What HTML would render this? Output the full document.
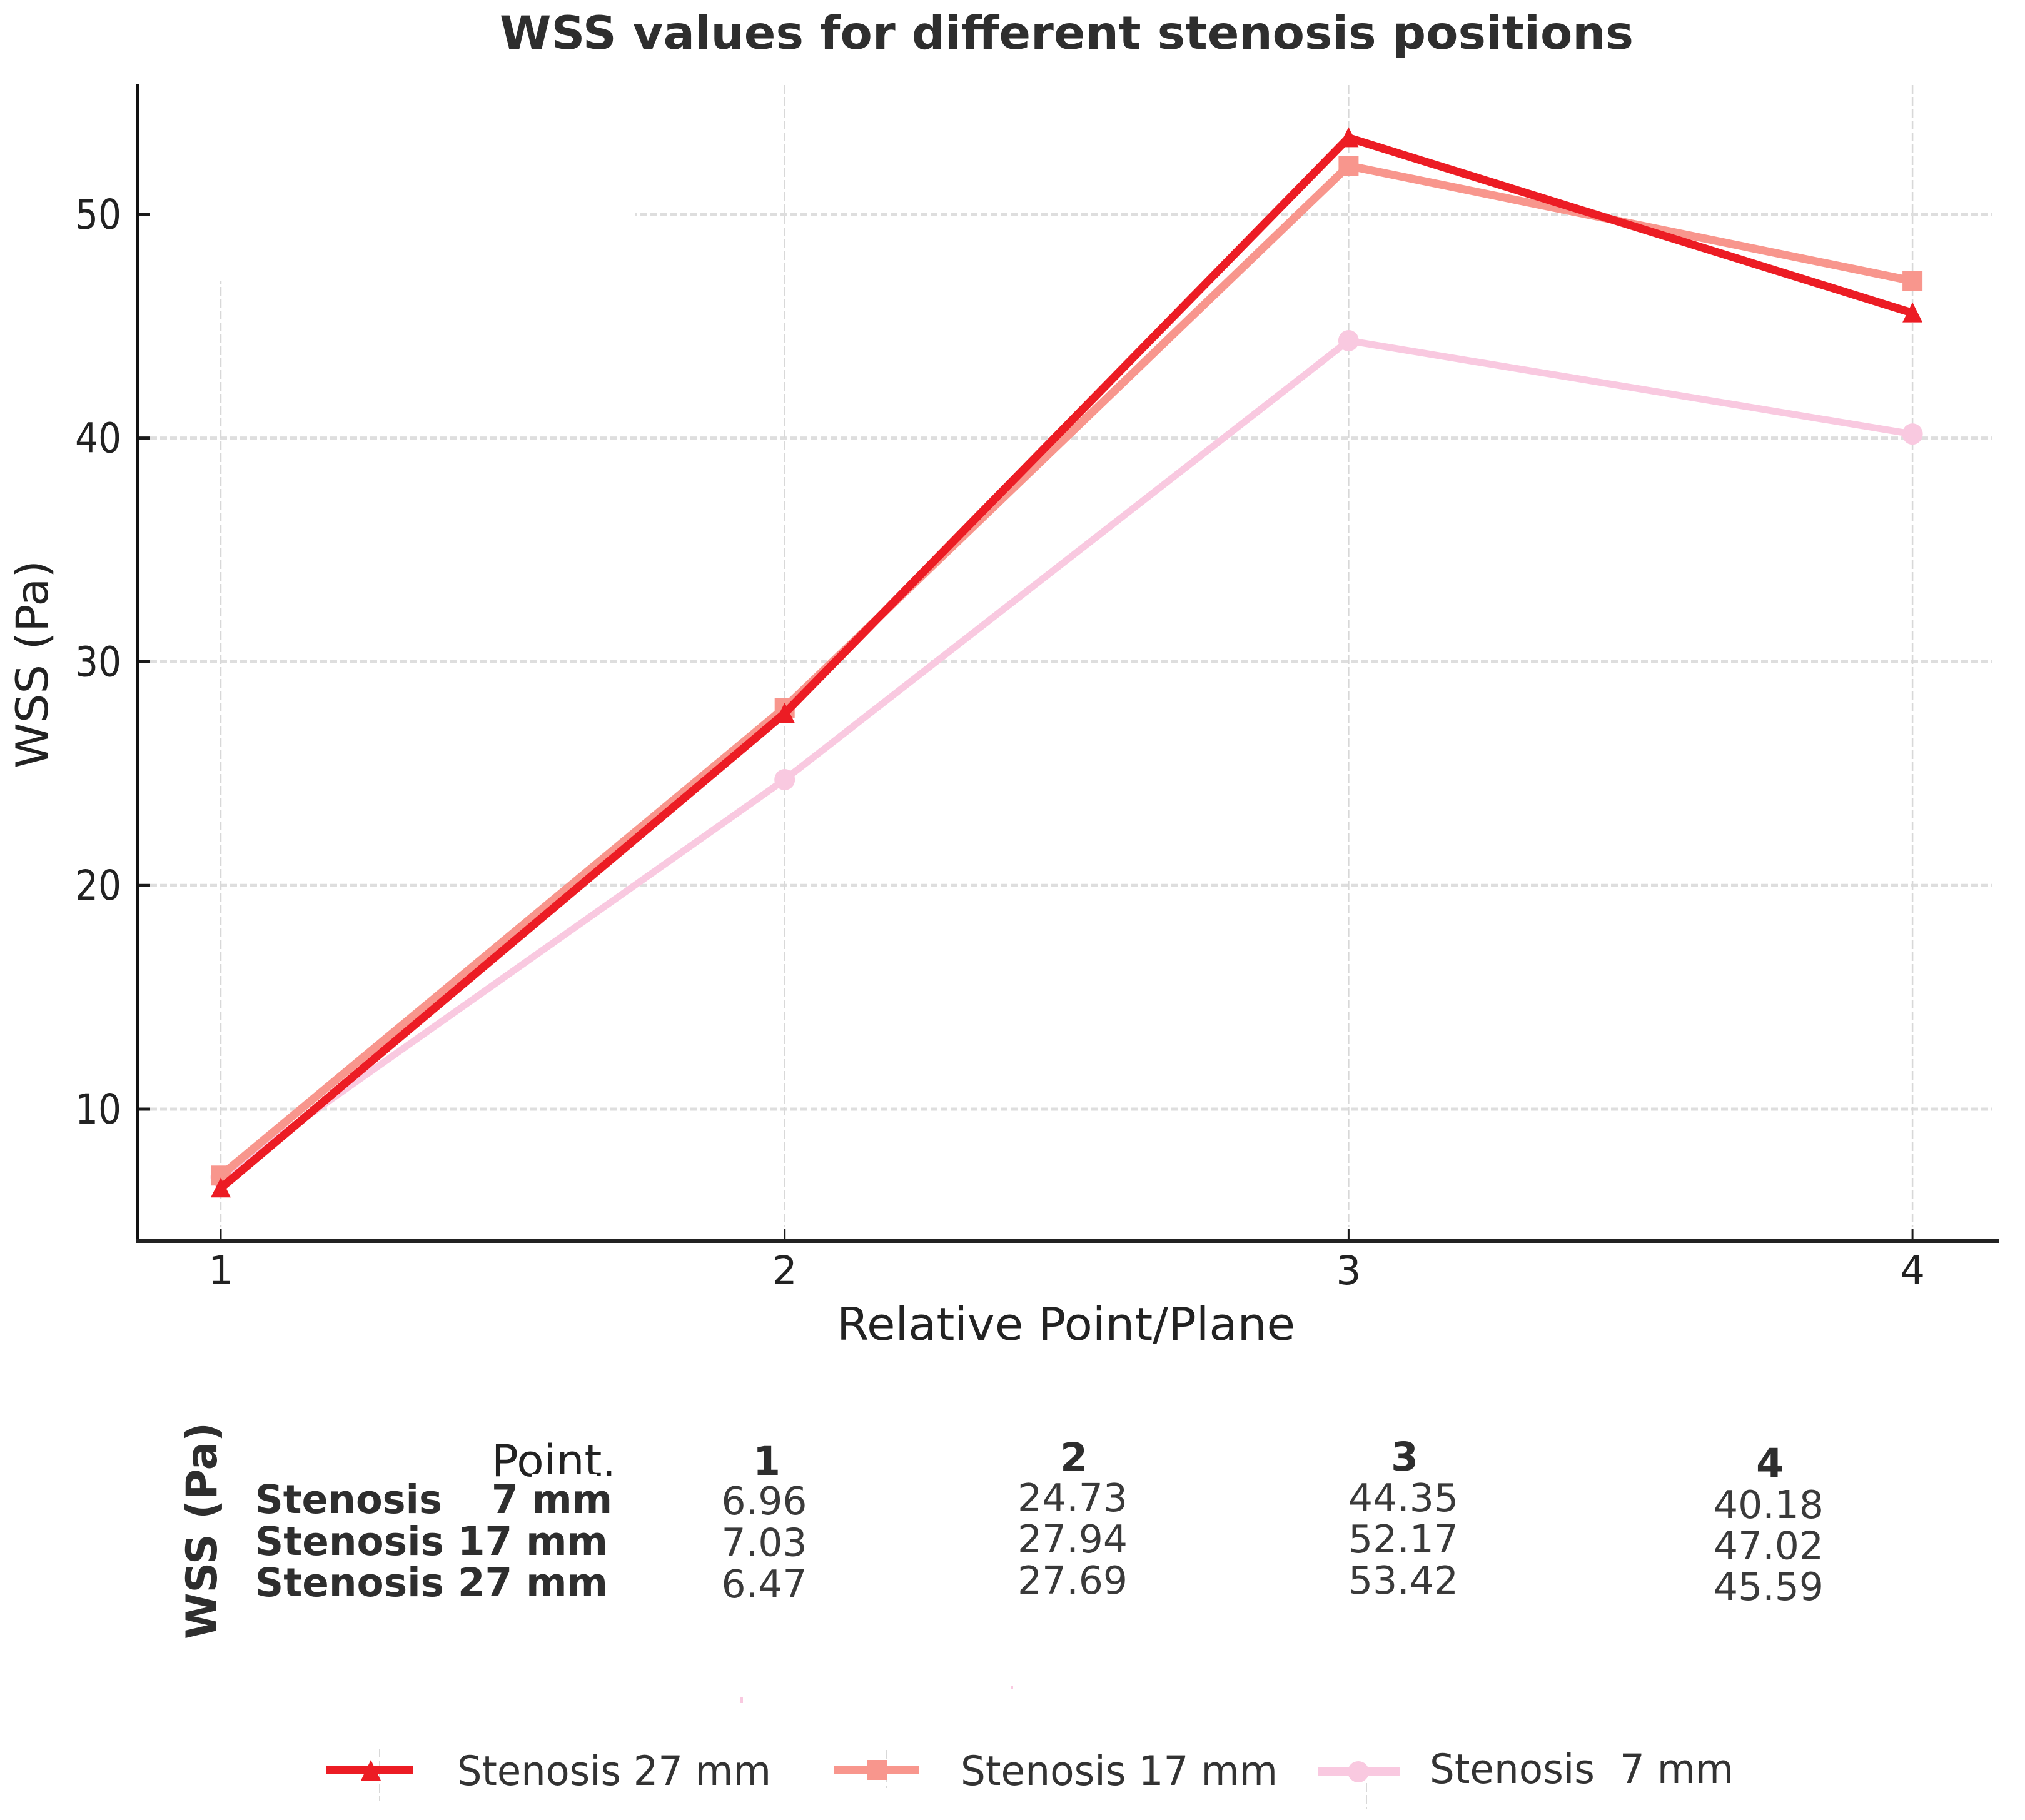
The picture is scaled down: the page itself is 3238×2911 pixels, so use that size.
<!DOCTYPE html>
<html lang="en">
<head>
<meta charset="utf-8">
<title>WSS values for different stenosis positions</title>
<style>
html,body{margin:0;padding:0;background:#fff;}
svg{display:block;font-family:"DejaVu Sans","Liberation Sans",sans-serif;}
</style>
</head>
<body>
<svg id="chart" xmlns="http://www.w3.org/2000/svg" width="3238" height="2911" viewBox="0 0 3238 2911">
  <rect x="0" y="0" width="3238" height="2911" fill="#ffffff"/>
  <text x="799" y="78" font-size="73" font-weight="700" fill="#2e2e2e" textLength="1813" lengthAdjust="spacingAndGlyphs">WSS values for different stenosis positions</text>
  <g id="grid"></g>
  <rect x="226" y="130" width="790" height="320" fill="#ffffff"/>
  <g id="series"></g>
  <g id="axes"></g>
  <text x="1338" y="2143" font-size="72" fill="#222222" textLength="733" lengthAdjust="spacingAndGlyphs">Relative Point/Plane</text>
  <text transform="translate(76,1229) rotate(-90)" font-size="70" fill="#222222" textLength="333" lengthAdjust="spacingAndGlyphs">WSS (Pa)</text>

  <g id="table">
    <text transform="translate(346,2622) rotate(-90)" font-size="68" font-weight="700" fill="#2e2e2e" textLength="347" lengthAdjust="spacingAndGlyphs">WSS (Pa)</text>
    <text x="786" y="2361" font-size="70" fill="#222222" textLength="199" lengthAdjust="spacingAndGlyphs">Point.</text>
    <rect x="850" y="2358" width="105" height="10" fill="#ffffff"/>
    <text x="408" y="2420" font-size="63" font-weight="700" fill="#2e2e2e" textLength="299" lengthAdjust="spacingAndGlyphs">Stenosis</text>
    <text x="786" y="2420" font-size="63" font-weight="700" fill="#2e2e2e" textLength="193" lengthAdjust="spacingAndGlyphs">7 mm</text>
    <text x="408" y="2487" font-size="63" font-weight="700" fill="#2e2e2e" textLength="564" lengthAdjust="spacingAndGlyphs">Stenosis 17 mm</text>
    <text x="408" y="2553" font-size="63" font-weight="700" fill="#2e2e2e" textLength="564" lengthAdjust="spacingAndGlyphs">Stenosis 27 mm</text>
  </g>

  <rect x="1184" y="2715" width="4" height="9" fill="#f9c9e0"/>
  <rect x="1617" y="2697" width="3" height="5" fill="#f9c9e0"/>

  <g id="legend">
    <g>
      <line x1="607" y1="2797" x2="607" y2="2881" stroke="#d8d8d8" stroke-width="2" stroke-dasharray="14 5"/>
      <rect x="522" y="2824" width="139" height="14" fill="#ec1c24"/>
      <polygon points="593,2815 609,2848 577,2848" fill="#ec1c24"/>
      <text x="731" y="2855" font-size="65" fill="#333333" textLength="502" lengthAdjust="spacingAndGlyphs">Stenosis 27 mm</text>
    </g>
    <g>
      <line x1="1417" y1="2799" x2="1417" y2="2860" stroke="#d8d8d8" stroke-width="2" stroke-dasharray="14 5"/>
      <rect x="1333" y="2824" width="137" height="14" fill="#f8968d"/>
      <rect x="1387" y="2815" width="32" height="32" fill="#f8968d"/>
      <text x="1536" y="2855" font-size="65" fill="#333333" textLength="507" lengthAdjust="spacingAndGlyphs">Stenosis 17 mm</text>
    </g>
    <g>
      <line x1="2185" y1="2852" x2="2185" y2="2894" stroke="#d8d8d8" stroke-width="2" stroke-dasharray="14 5"/>
      <rect x="2108" y="2826" width="131" height="14" fill="#f9c9e0"/>
      <ellipse cx="2172" cy="2834" rx="17" ry="17" fill="#f9c9e0"/>
      <text x="2286" y="2852" font-size="65" fill="#333333" textLength="486" lengthAdjust="spacingAndGlyphs" xml:space="preserve">Stenosis&#160;&#160;7 mm</text>
    </g>
  </g>
</svg>
<script>
var categories = [1, 2, 3, 4];
var yTickLabels = [10, 20, 30, 40, 50];
var stenosis7 = [6.96, 24.73, 44.35, 40.18];
var stenosis17 = [7.03, 27.94, 52.17, 47.02];
var stenosis27 = [6.47, 27.69, 53.42, 45.59];

var NS = 'http://www.w3.org/2000/svg';
function xAxis(c) { return 353 + (c - 1) * 901.7; }
function yAxis(v) { return 1774 - (v - 10) * 35.78; }
function make(parent, tag, attrs) {
  var el = document.createElementNS(NS, tag);
  for (var k in attrs) { el.setAttribute(k, attrs[k]); }
  parent.appendChild(el);
  return el;
}
var gridLayer = document.getElementById('grid');
var axesLayer = document.getElementById('axes');
var seriesLayer = document.getElementById('series');
var tableLayer = document.getElementById('table');

yTickLabels.forEach(function (t) {
  var y = yAxis(t);
  var g = make(gridLayer, 'line', {x1: 240, x2: 3186, y1: y, y2: y, stroke: '#dedede', 'stroke-width': 5, 'stroke-dasharray': '11 5'});
  
  
  var tick = make(axesLayer, 'line', {x1: 220, x2: 240, y1: y, y2: y, stroke: '#1a1a1a', 'stroke-width': 5});
  
  
  var label = make(axesLayer, 'text', {x: 194, y: y + 23, 'font-size': 66, fill: '#222222', 'text-anchor': 'end', textLength: 74, lengthAdjust: 'spacingAndGlyphs'});
  label.textContent = String(t);
  
  
});

categories.forEach(function (c) {
  var x = xAxis(c);
  var g = make(gridLayer, 'line', {x1: x, x2: x, y1: 136, y2: 1962, stroke: '#d8d8d8', 'stroke-width': 2.5, 'stroke-dasharray': '14 5'});
  
  
  var tick = make(axesLayer, 'line', {x1: x, x2: x, y1: 1965, y2: 1985, stroke: '#1a1a1a', 'stroke-width': 3});
  
  
  var label = make(axesLayer, 'text', {x: x, y: 2054, 'font-size': 63, fill: '#222222', 'text-anchor': 'middle'});
  label.textContent = String(c);
  
  
});

var yLine = make(axesLayer, 'line', {x1: 220, x2: 220, y1: 134, y2: 1987, stroke: '#111111', 'stroke-width': 4});


var xLine = make(axesLayer, 'line', {x1: 218, x2: 3196, y1: 1985, y2: 1985, stroke: '#222222', 'stroke-width': 6});



function drawLine(values, color, width, key) {
  var pts = values.map(function (v, i) { return xAxis(categories[i]) + ',' + yAxis(v); }).join(' ');
  var line = make(seriesLayer, 'polyline', {points: pts, fill: 'none', stroke: color, 'stroke-width': width, 'stroke-linejoin': 'miter'});
  
  
}
function drawMarkers(values, color, shape, key) {
  values.forEach(function (v, i) {
    var x = xAxis(categories[i]);
    var y = yAxis(v);
    var m;
    if (shape === 'circle') {
      m = make(seriesLayer, 'ellipse', {cx: x, cy: y, rx: 16.5, ry: 17, fill: color});
    } else if (shape === 'square') {
      m = make(seriesLayer, 'rect', {x: x - 16, y: y - 16, width: 32, height: 32, fill: color});
    } else {
      m = make(seriesLayer, 'polygon', {points: x + ',' + (y - 17) + ' ' + (x + 16) + ',' + (y + 15) + ' ' + (x - 16) + ',' + (y + 15), fill: color});
    }
    
    
  });
}
drawLine(stenosis7, '#f9c9e0', 11, '7mm');
drawMarkers(stenosis7, '#f9c9e0', 'circle', '7mm');
drawLine(stenosis17, '#f8968d', 13, '17mm');
drawMarkers(stenosis17, '#f8968d', 'square', '17mm');
drawLine(stenosis27, '#ec1c24', 13, '27mm');
drawMarkers(stenosis27, '#ec1c24', 'triangle', '27mm');

function drawTableColumn(i, headerX, headerY, valueX, firstY, step) {
  var head = make(tableLayer, 'text', {x: headerX, y: headerY, 'font-size': 63, 'font-weight': 700, fill: '#2e2e2e', 'text-anchor': 'middle'});
  head.textContent = String(categories[i]);
  
  
  var c7 = make(tableLayer, 'text', {x: valueX, y: firstY, 'font-size': 61.5, fill: '#3a3a3a', 'text-anchor': 'middle'});
  c7.textContent = stenosis7[i].toFixed(2);
  
  
  var c17 = make(tableLayer, 'text', {x: valueX, y: firstY + step, 'font-size': 61.5, fill: '#3a3a3a', 'text-anchor': 'middle'});
  c17.textContent = stenosis17[i].toFixed(2);
  
  
  var c27 = make(tableLayer, 'text', {x: valueX, y: firstY + 2 * step, 'font-size': 61.5, fill: '#3a3a3a', 'text-anchor': 'middle'});
  c27.textContent = stenosis27[i].toFixed(2);
  
  
}
drawTableColumn(0, 1226, 2359, 1222, 2422, 66.5);
drawTableColumn(1, 1717, 2353, 1715, 2417, 66);
drawTableColumn(2, 2246, 2352, 2244, 2417, 66);
drawTableColumn(3, 2830, 2362, 2828, 2428, 65.5);
</script>
</body>
</html>
